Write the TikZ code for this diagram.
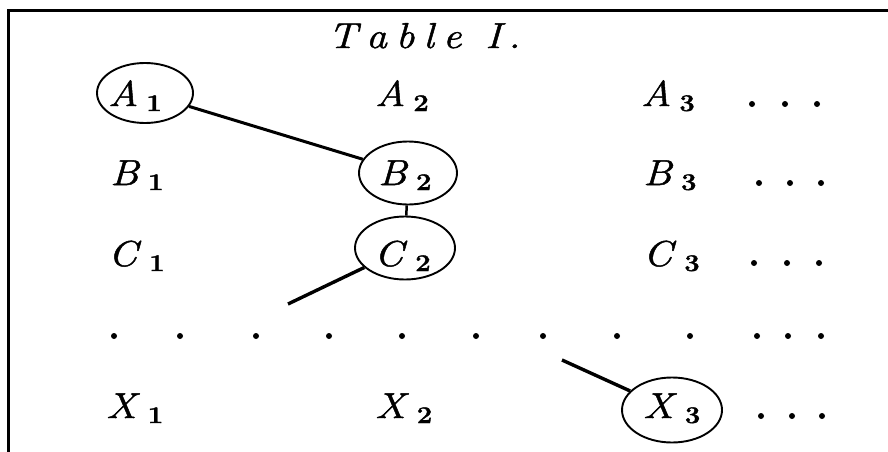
\documentclass[tikz,border=0pt]{standalone}
\usepackage{fontspec}
\setmainfont{Latin Modern Roman}[FakeBold=1.4, FakeStretch=1.15]
\usetikzlibrary{shapes.geometric}
\newcommand{\sublab}[2]{\textit{#1}\kern8pt\raisebox{-5pt}{\fontsize{24}{28}\selectfont\bfseries #2}}
\tikzset{
  lab/.style={anchor=base west, inner sep=0pt, font=\fontsize{36}{42}\selectfont},
  ring/.style={draw, ellipse, line width=1.9pt, inner sep=0pt},
  link/.style={line width=3pt},
  frameline/.style={line width=2.8pt}
}
\begin{document}
\begin{tikzpicture}[x=1pt,y=-1pt]
\useasboundingbox (0,0) rectangle (888,452);
% frame (top and left edges)
\coordinate (f0) at (888,10.5);
\coordinate (f1) at (8.5,10.5);
\coordinate (f2) at (8.5,452);
\draw[frameline] (f0) -- (f1) -- (f2);
% title
\node[lab] (title) at (328,48) {\itshape T\kern9pt a\kern9pt b\kern9pt l\kern9pt e\kern24pt I\kern7pt .};
% labels
\node[lab] (tA1) at (108,106) {\sublab{A}{1}};
\node[lab] (tA2) at (375,106) {\sublab{A}{2}};
\node[lab] (tA3) at (641,106) {\sublab{A}{3}};
\node[lab] (tB1) at (110,185) {\sublab{B}{1}};
\node[lab] (tB2) at (378,185) {\sublab{B}{2}};
\node[lab] (tB3) at (643,185) {\sublab{B}{3}};
\node[lab] (tC1) at (108,266) {\sublab{C}{1}};
\node[lab] (tC2) at (374,266) {\sublab{C}{2}};
\node[lab] (tC3) at (643,266) {\sublab{C}{3}};
\node[lab] (tX1) at (106,418) {\sublab{X}{1}};
\node[lab] (tX2) at (375,418) {\sublab{X}{2}};
\node[lab] (tX3) at (643,418) {\sublab{X}{3}};
% rings
\node[ring, minimum width=96pt, minimum height=60pt] (cA1) at (145,93) {};
\node[ring, minimum width=98pt, minimum height=63pt] (cB2) at (408,173) {};
\node[ring, minimum width=100pt, minimum height=63pt] (cC2) at (405,248) {};
\node[ring, minimum width=100pt, minimum height=65pt] (cX3) at (672,410) {};
% connectors
\coordinate (eC) at (288,304);
\coordinate (eX) at (562,360);
\draw[link] (cA1) -- (cB2);
\draw[line width=2.5pt] (cB2) -- (cC2);
\draw[link, line width=3.4pt] (cC2) -- (eC);
\draw[link, line width=3.4pt] (cX3) -- (eX);
% dots
\foreach \x in {752,785,817} \fill (\x,104) circle (3pt);
\foreach \x in {759,790,821} \fill (\x,183) circle (3pt);
\foreach \x in {754,787,819} \fill (\x,263) circle (3pt);
\foreach \x in {114,180,256,329,402,476,543,617,690,757,788,821} \fill (\x,336) circle (3pt);
\foreach \x in {761,792,822} \fill (\x,416) circle (3pt);
\end{tikzpicture}
\end{document}
